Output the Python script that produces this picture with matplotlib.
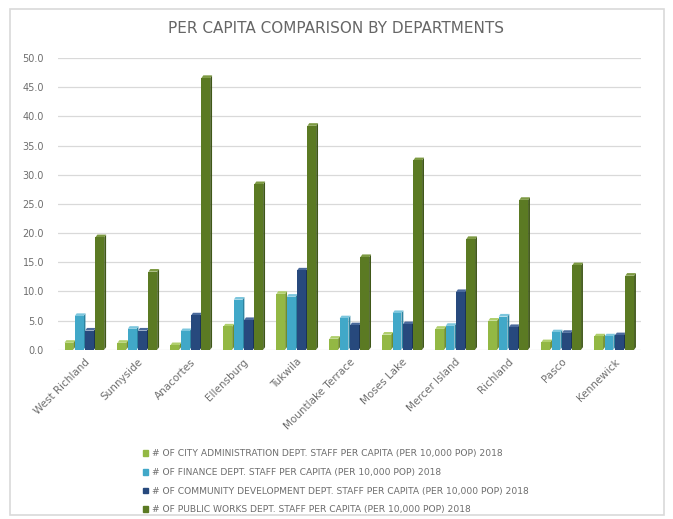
import numpy as np
import matplotlib.pyplot as plt
from matplotlib.patches import Rectangle

cities = ["West Richland", "Sunnyside", "Anacortes", "Ellensburg", "Tukwila",
          "Mountlake Terrace", "Moses Lake", "Mercer Island", "Richland",
          "Pasco", "Kennewick"]

city_admin = [1.2, 1.2, 0.8, 4.0, 9.6, 1.9, 2.6, 3.6, 5.0, 1.3, 2.3]
finance = [5.8, 3.6, 3.2, 8.6, 9.1, 5.4, 6.3, 4.1, 5.7, 3.0, 2.3]
community_dev = [3.3, 3.3, 5.9, 5.1, 13.6, 4.2, 4.4, 9.9, 3.9, 2.9, 2.5]
public_works = [19.3, 13.4, 46.6, 28.4, 38.4, 15.9, 32.5, 19.0, 25.7, 14.5, 12.7]

labels = [
    "# OF CITY ADMINISTRATION DEPT. STAFF PER CAPITA (PER 10,000 POP) 2018",
    "# OF FINANCE DEPT. STAFF PER CAPITA (PER 10,000 POP) 2018",
    "# OF COMMUNITY DEVELOPMENT DEPT. STAFF PER CAPITA (PER 10,000 POP) 2018",
    "# OF PUBLIC WORKS DEPT. STAFF PER CAPITA (PER 10,000 POP) 2018",
]
series = [city_admin, finance, community_dev, public_works]
front = ["#93b844", "#41a8c8", "#27497d", "#5b7a23"]
side = ["#6f8e2c", "#2c83a0", "#1a3358", "#3f5718"]
top = ["#b0cf6c", "#7cc6dd", "#4a6a9c", "#7d9a43"]

grey = "#6e6e6e"

fig = plt.figure(figsize=(6.73, 5.19), dpi=100)
ax = fig.add_axes([0.086, 0.326, 0.866, 0.562])

x = np.arange(len(cities))
w = 0.165      # front face width
step = 0.195   # spacing between bars in a cluster
dx, dy = 0.035, 0.45   # fake depth

for c in range(len(cities)):
    for i, vals in enumerate(series):
        v = vals[c]
        left = x[c] + (i - 1.5) * step - w / 2
        right = left + w
        z = 3 + c * 10 + i * 2
        ax.fill([right, right + dx, right + dx, right],
                [0, dy, v + dy, v], color=side[i], zorder=z, lw=0)
        ax.fill([left, left + dx, right + dx, right],
                [v, v + dy, v + dy, v], color=top[i], zorder=z, lw=0)
        ax.bar(left, v, width=w, align="edge", color=front[i],
               zorder=z + 1, lw=0)

ax.set_xlim(-0.5, len(cities) - 0.5)
ax.set_ylim(0, 50)
ax.set_yticks(np.arange(0, 51, 5))
ax.set_yticklabels([f"{t:.1f}" for t in np.arange(0, 51, 5)])
ax.yaxis.grid(True, color="#d9d9d9", lw=0.9)
ax.set_axisbelow(True)
for s in ax.spines.values():
    s.set_visible(False)
ax.tick_params(axis="y", length=0, pad=10, labelsize=7, labelcolor=grey)
ax.tick_params(axis="x", length=0, pad=5, labelsize=7.5, labelcolor=grey)
ax.set_xticks(x)
ax.set_xticklabels(cities, rotation=45, ha="right", rotation_mode="anchor")

fig.text(0.5, 0.945, "PER CAPITA COMPARISON BY DEPARTMENTS", ha="center",
         va="center", fontsize=11, color="#666666")

handles = [Rectangle((0, 0), 1, 1, color=c) for c in front]
leg = fig.legend(handles, labels, loc="upper left",
                 bbox_to_anchor=(0.205, 0.143), frameon=False, fontsize=6.6,
                 handlelength=0.55, handleheight=0.55, handletextpad=0.45,
                 labelspacing=1.05, borderpad=0)
for t in leg.get_texts():
    t.set_color(grey)

# light outer frame
fig.patches.append(Rectangle((10 / 673, 4 / 519), 654 / 673, 506 / 519,
                             transform=fig.transFigure, fill=False,
                             ec="#d9d9d9", lw=1.2))

fig.savefig("out.png", dpi=100, facecolor="white")
